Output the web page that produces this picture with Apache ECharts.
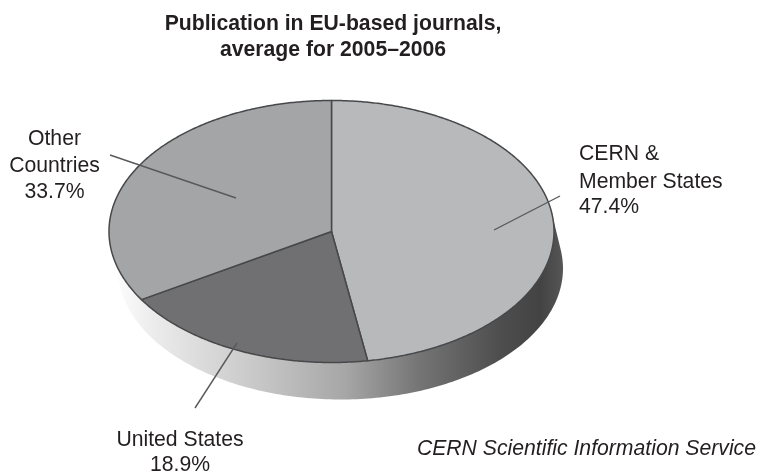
<!DOCTYPE html>
<html><head><meta charset="utf-8">
<style>html,body{margin:0;padding:0;background:#fff}#c{width:758px;height:472px}</style>
<script src="https://cdn.jsdelivr.net/npm/echarts@6/dist/echarts.min.js"></script>
</head><body><div id="c"></div>
<script>
const titleLines = ['Publication in EU-based journals,', 'average for 2005–2006'];
const sourceNote = 'CERN Scientific Information Service';
const categories = ['CERN &\nMember States', 'United States', 'Other\nCountries'];
const shares = [47.4, 18.9, 33.7];
const sliceColors = ['#b8b9bb', '#707072', '#a4a5a7'];

// Layout of the tilted disc
const CX = 331.5, CY = 231.5, RX = 222.5, RY = 131, DX = 9, DY = 37;
const total = shares.reduce((a, b) => a + b, 0);
const ell = (deg, ox, oy) => {
  const t = deg * Math.PI / 180;
  return [CX + (ox || 0) + RX * Math.sin(t), CY + (oy || 0) - RY * Math.cos(t)];
};
// label and leader layout, per category
const labelLayout = [
  { x: 579, y: [154.5, 182, 207], align: 'left', from: [560, 196], to: [494, 230] },
  { x: 180, y: [440, 465], align: 'center', from: [195, 408], to: [237, 343] },
  { x: 54.5, y: [139, 166, 192], align: 'center', from: [110, 155], to: [236, 198] }
];
const textColor = '#231f20';
const FF = '"Liberation Sans", Arial, sans-serif';
const FS = '21.2px ';

function renderSide() {
  const pts = [];
  for (let a = 81.8; a <= 261.8; a += 1) pts.push(ell(a));
  for (let a = 261.8; a >= 81.8; a -= 1) pts.push(ell(a, DX, DY));
  return {
    type: 'polygon', shape: { points: pts },
    style: {
      fill: { type: 'linear', x: 0, y: 0, x2: 1, y2: 0, colorStops: [
        { offset: 0, color: '#ffffff' },
        { offset: 0.08, color: '#eeeeee' },
        { offset: 0.32, color: '#c8c8c8' },
        { offset: 0.52, color: '#a6a6a6' },
        { offset: 0.68, color: '#757575' },
        { offset: 0.86, color: '#4e4e4e' },
        { offset: 0.95, color: '#434343' },
        { offset: 1, color: '#565656' }
      ] },
      stroke: null
    }
  };
}

function renderSlice(params, api) {
  const i = params.dataIndex;
  let before = 0;
  for (let k = 0; k < i; k++) before += shares[k];
  const a0 = before / total * 360, a1 = (before + api.value(0)) / total * 360;
  const pts = [[CX, CY]];
  for (let a = a0; a < a1; a += 0.5) pts.push(ell(a));
  pts.push(ell(a1));
  return {
    type: 'polygon', shape: { points: pts },
    style: { fill: sliceColors[i], stroke: '#47484a', lineWidth: 1.5, lineJoin: 'round' }
  };
}

function renderLabel(params, api) {
  const i = params.dataIndex;
  const L = labelLayout[i];
  const lines = categories[i].split('\n').concat([api.value(0).toFixed(1) + '%']);
  const children = [{
    type: 'line', shape: { x1: L.from[0], y1: L.from[1], x2: L.to[0], y2: L.to[1] },
    style: { stroke: '#58595b', lineWidth: 1.4 }
  }];
  lines.forEach((s, k) => children.push({
    type: 'text',
    style: { text: s, x: L.x, y: L.y[k], align: L.align, verticalAlign: 'middle',
      fill: textColor, font: FS + FF }
  }));
  return { type: 'group', children };
}

const chart = echarts.init(document.getElementById('c'), null, { renderer: 'canvas' });
chart.setOption({
  animation: false,
  backgroundColor: '#fff',
  series: [
    { type: 'custom', coordinateSystem: 'none', renderItem: renderSide, data: [[1]], silent: true, z: 1 },
    { type: 'custom', coordinateSystem: 'none', renderItem: renderSlice, data: shares.map(v => [v]), z: 2 },
    { type: 'custom', coordinateSystem: 'none', renderItem: renderLabel, data: shares.map(v => [v]), silent: true, z: 3 }
  ],
  graphic: [
    { type: 'text', z: 10, style: { text: titleLines[0], x: 333, y: 24, align: 'center', verticalAlign: 'middle', fill: textColor, font: 'bold ' + FS + FF } },
    { type: 'text', z: 10, style: { text: titleLines[1], x: 333, y: 50, align: 'center', verticalAlign: 'middle', fill: textColor, font: 'bold ' + FS + FF } },
    { type: 'text', z: 10, style: { text: sourceNote, x: 756, y: 449, align: 'right', verticalAlign: 'middle', fill: textColor, font: 'italic ' + FS + FF } }
  ]
});
</script></body></html>
